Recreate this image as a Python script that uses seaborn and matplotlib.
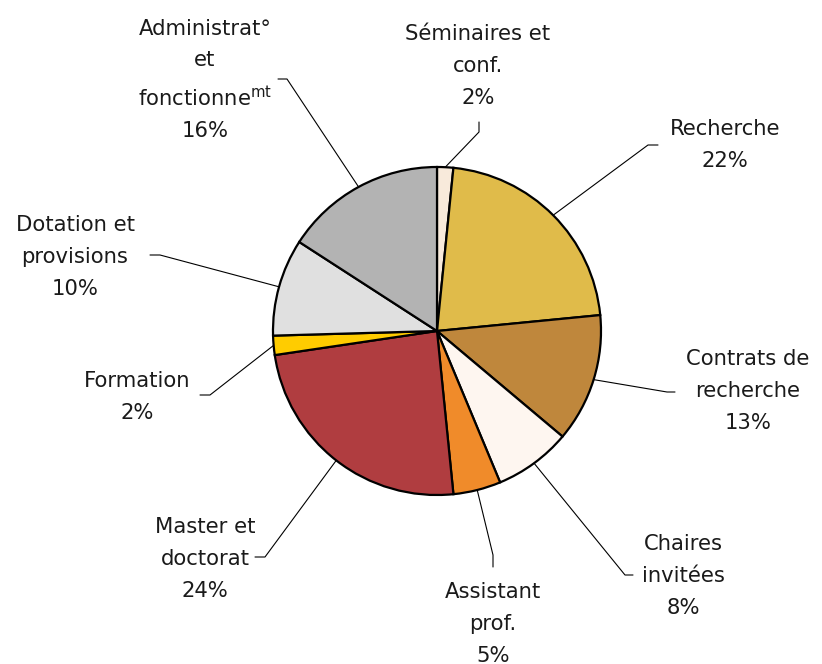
import numpy as np
import matplotlib
matplotlib.use('Agg')
import matplotlib.pyplot as plt
import seaborn as sns

# budget split (%)
categories = ['Séminaires et\nconf.', 'Recherche', 'Contrats de\nrecherche',
              'Chaires\ninvitées', 'Assistant\nprof.', 'Master et\ndoctorat',
              'Formation', 'Dotation et\nprovisions',
              'Administrat°\net\nfonctionne$^{\\mathrm{mt}}$']
values = [1.6, 21.9, 12.7, 7.6, 4.7, 24.3, 1.9, 9.6, 15.9]
colors = ['#F8EADB', '#E0BB4A', '#BF873C', '#FEF6F0', '#F08B2A',
          '#B03D40', '#FFCC00', '#E0E0E0', '#B3B3B3']

sns.set_style('white')
plt.rcParams['font.family'] = ['DejaVu Sans']
plt.rcParams['mathtext.fontset'] = 'custom'
plt.rcParams['mathtext.rm'] = 'DejaVu Sans'

W, H = 822, 664
fig = plt.figure(figsize=(W / 100, H / 100), dpi=100)
ax = fig.add_axes([0, 0, 1, 1])

cx, cy, r = 437, H - 331, 164
wedges, _ = ax.pie(values, colors=colors, startangle=90, counterclock=False,
                   center=(cx, cy), radius=r,
                   wedgeprops=dict(edgecolor='black', linewidth=1.6))
ax.set_xlim(0, W)
ax.set_ylim(0, H)
ax.axis('off')

# label placement in pixel coords: text centre, elbow, end of short tick
layout = [
    ((478, 66), (479, 132), (479, 122)),
    ((725, 145), (648, 145), (658, 145)),
    ((748, 391), (667, 392), (675, 392)),
    ((683, 576), (625, 575), (633, 575)),
    ((493, 624), (493, 555), (493, 567)),
    ((205, 559), (265, 557), (255, 557)),
    ((137, 397), (210, 395), (200, 395)),
    ((75, 257), (160, 255), (150, 255)),
    ((205, 80), (287, 79), (278, 79)),
]

total = sum(values)
for w, lab, v, (tpos, elbow, end) in zip(wedges, categories, values, layout):
    ang = np.deg2rad((w.theta1 + w.theta2) / 2)
    ax_, ay_ = cx + r * np.cos(ang), cy + r * np.sin(ang)
    xs = [ax_, elbow[0], end[0]]
    ys = [ay_, H - elbow[1], H - end[1]]
    ax.plot(xs, ys, color='black', lw=0.8)
    txt = f"{lab}\n{round(v / total * 100):.0f}%"
    ax.text(tpos[0], H - tpos[1], txt, ha='center', va='center',
            fontsize=15.2, color='#1a1a1a', linespacing=1.72)

fig.savefig('out.png', dpi=100)
